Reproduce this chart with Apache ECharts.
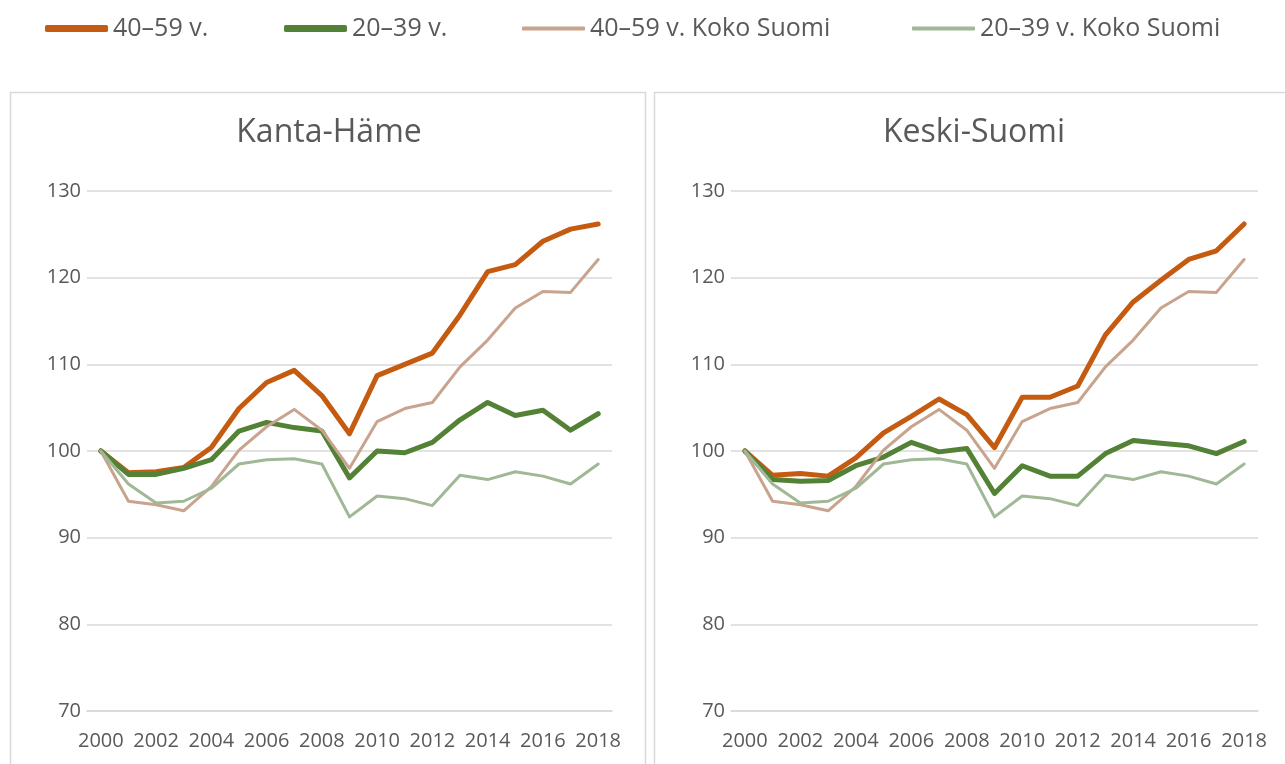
<!DOCTYPE html>
<html>
<head>
<meta charset="utf-8">
<script src="https://cdn.jsdelivr.net/npm/echarts@6/dist/echarts.min.js"></script>
<style>
  html, body { margin: 0; padding: 0; background: #fff; }
  #chart { width: 1285px; height: 764px; }
</style>
</head>
<body>
<div id="chart"></div>
<script>
const years = ['2000', '2001', '2002', '2003', '2004', '2005', '2006', '2007', '2008', '2009',
  '2010', '2011', '2012', '2013', '2014', '2015', '2016', '2017', '2018'];
const panelTitles = ['Kanta-Häme', 'Keski-Suomi'];
const seriesNames = ['40–59 v.', '20–39 v.', '40–59 v. Koko Suomi', '20–39 v. Koko Suomi'];

// Kanta-Häme
const khOld = [100, 97.5, 97.6, 98.1, 100.4, 104.9, 107.9, 109.3, 106.4, 102.0, 108.7, 110.0, 111.3, 115.7, 120.7, 121.5, 124.2, 125.6, 126.2];
const khYoung = [100, 97.3, 97.3, 98.0, 99.0, 102.3, 103.3, 102.7, 102.3, 96.9, 100.0, 99.8, 101.0, 103.6, 105.6, 104.1, 104.7, 102.4, 104.3];
// Keski-Suomi
const ksOld = [100, 97.2, 97.4, 97.1, 99.2, 102.1, 104.0, 106.0, 104.2, 100.4, 106.2, 106.2, 107.5, 113.4, 117.2, 119.7, 122.1, 123.1, 126.2];
const ksYoung = [100, 96.7, 96.5, 96.6, 98.3, 99.3, 101.0, 99.9, 100.3, 95.1, 98.3, 97.1, 97.1, 99.7, 101.2, 100.9, 100.6, 99.7, 101.1];
// Koko Suomi
const fiOld = [100, 94.2, 93.8, 93.1, 95.9, 100.1, 102.8, 104.8, 102.4, 98.0, 103.4, 104.9, 105.6, 109.7, 112.8, 116.5, 118.4, 118.3, 122.1];
const fiYoung = [100, 96.2, 94.0, 94.2, 95.7, 98.5, 99.0, 99.1, 98.5, 92.4, 94.8, 94.5, 93.7, 97.2, 96.7, 97.6, 97.1, 96.2, 98.5];

const colors = ['#C55A11', '#538135', '#C8A38D', '#A0B896'];
const widths = [5, 5, 3, 3];
const font = "'Open Sans', 'Noto Sans', sans-serif";
const textColor = '#595959';

const panelData = [
  [khOld, khYoung, fiOld, fiYoung],
  [ksOld, ksYoung, fiOld, fiYoung],
];

const grids = [
  { left: 87, top: 191, width: 525, height: 520 },
  { left: 731, top: 191, width: 527, height: 520 },
];

const chart = echarts.init(document.getElementById('chart'));

const series = [];
panelData.forEach((arrs, p) => {
  arrs.forEach((d, i) => {
    series.push({
      name: seriesNames[i],
      type: 'line',
      xAxisIndex: p,
      yAxisIndex: p,
      data: d,
      showSymbol: false,
      symbol: 'none',
      lineStyle: { color: colors[i], width: widths[i], cap: 'round', join: 'round' },
      itemStyle: { color: colors[i] },
      emphasis: { disabled: true },
    });
  });
});

// one legend per item so each sits where it does in the picture
const legendLeft = [40, 279, 517, 907];
const legendH = [7, 7, 4, 4];
const legends = seriesNames.map((n, i) => ({
  left: legendLeft[i],
  top: 11,
  data: [{ name: n, icon: 'roundRect' }],
  itemWidth: 63,
  itemHeight: legendH[i],
  selectedMode: false,
  textStyle: { fontFamily: font, fontSize: 25, color: textColor },
}));

chart.setOption({
  animation: false,
  legend: legends,
  title: panelTitles.map((t, i) => ({
    text: t,
    left: i === 0 ? 324 : 969,
    top: 112,
    textAlign: 'center',
    textStyle: { fontFamily: font, fontSize: 32, fontWeight: 'normal', color: textColor },
  })),
  graphic: [
    { type: 'rect', shape: { x: 10.5, y: 92.5, width: 635, height: 720 },
      style: { fill: 'none', stroke: '#D9D9D9', lineWidth: 1.5 }, silent: true },
    { type: 'rect', shape: { x: 654.5, y: 92.5, width: 700, height: 720 },
      style: { fill: 'none', stroke: '#D9D9D9', lineWidth: 1.5 }, silent: true },
  ],
  grid: grids,
  xAxis: grids.map((g, i) => ({
    type: 'category',
    gridIndex: i,
    data: years,
    boundaryGap: true,
    axisLine: { show: true, lineStyle: { color: '#D9D9D9', width: 1.5 } },
    axisTick: { show: false },
    axisLabel: { interval: 1, margin: 20, color: textColor, fontFamily: font, fontSize: 20 },
  })),
  yAxis: grids.map((g, i) => ({
    type: 'value',
    gridIndex: i,
    min: 70,
    max: 130,
    interval: 10,
    axisLine: { show: false },
    axisTick: { show: false },
    splitLine: { lineStyle: { color: '#D9D9D9', width: 1.5 } },
    axisLabel: { margin: 6, color: textColor, fontFamily: font, fontSize: 20 },
  })),
  series: series,
});
</script>
</body>
</html>
